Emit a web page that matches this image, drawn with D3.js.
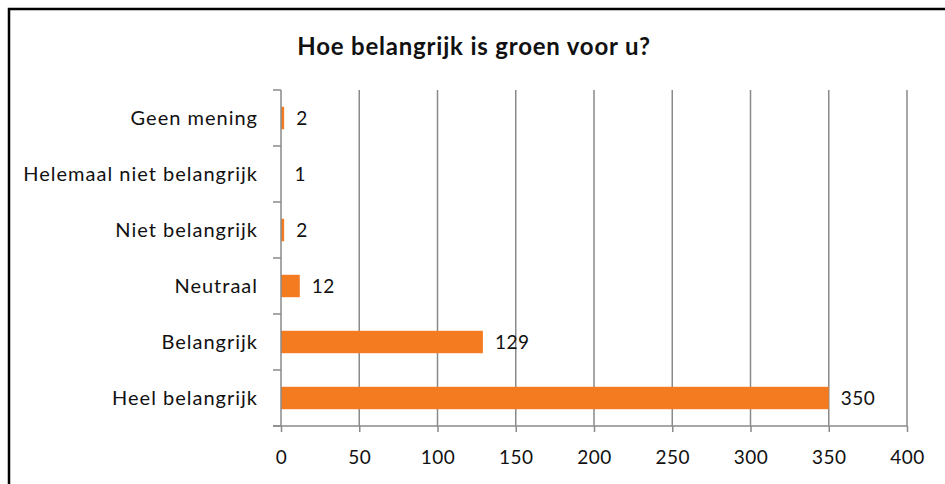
<!DOCTYPE html>
<html>
<head>
<meta charset="utf-8">
<script src="https://cdn.jsdelivr.net/npm/d3@7"></script>
<style>
  body { margin: 0; background: #fff; }
  svg { display: block; font-family: Lato, "Open Sans", sans-serif; }
</style>
</head>
<body>
<script>
// data
var categories = ["Geen mening", "Helemaal niet belangrijk", "Niet belangrijk", "Neutraal", "Belangrijk", "Heel belangrijk"];
var counts = [2, 1, 2, 12, 129, 350];
var xTicks = [0, 50, 100, 150, 200, 250, 300, 350, 400];
var title = "Hoe belangrijk is groen voor u?";

var W = 945, H = 484;
var plotLeft = 281, plotRight = 907, plotTop = 90, plotBottom = 426;

var svg = d3.select("body").append("svg")
	.attr("width", W)
	.attr("height", H);

svg.append("rect")
	.attr("width", W).attr("height", H)
	.attr("fill", "#fff");

// frame (right and bottom edges run off the picture)
svg.append("rect")
	.attr("x", 9).attr("y", 9)
	.attr("width", W + 20).attr("height", H + 20)
	.attr("fill", "none")
	.attr("stroke", "#000")
	.attr("stroke-width", 2.5);

svg.append("text")
	.attr("x", 474).attr("y", 55)
	.attr("text-anchor", "middle")
	.style("font-size", "24px")
	.style("font-weight", "bold")
	.style("letter-spacing", "0.8px")
	.attr("fill", "#111")
	.text(title);

var x = d3.scaleLinear().domain([0, 400]).range([plotLeft, plotRight]);
var y = d3.scaleBand().domain(categories).range([plotTop, plotBottom]).paddingInner(0.6).paddingOuter(0.3);

// gridlines
svg.append("g").selectAll("line")
	.data(xTicks.filter(function(d){ return d > 0; }))
	.enter().append("line")
	.attr("x1", function(d){ return x(d); })
	.attr("x2", function(d){ return x(d); })
	.attr("y1", plotTop).attr("y2", plotBottom)
	.attr("stroke", "#8a8a8a")
	.attr("stroke-width", 1.5);

// bars
svg.append("g").selectAll("rect")
	.data(counts)
	.enter().append("rect")
	.attr("x", x(0))
	.attr("y", function(d, i){ return y(categories[i]); })
	.attr("width", function(d){ return d <= 1 ? 0 : x(d) - x(0); })
	.attr("height", y.bandwidth())
	.attr("fill", "#f47b20");

// value labels
svg.append("g").selectAll("text")
	.data(counts)
	.enter().append("text")
	.attr("x", function(d){ return x(d) + 12; })
	.attr("y", function(d, i){ return y(categories[i]) + y.bandwidth() / 2; })
	.attr("dy", "0.35em")
	.style("font-size", "19px")
	.style("letter-spacing", "0.5px")
	.attr("fill", "#111")
	.text(function(d){ return d; });

// x axis
var xAxis = svg.append("g")
	.attr("transform", "translate(0," + plotBottom + ")")
	.call(d3.axisBottom(x).tickValues(xTicks).tickSize(6).tickPadding(19));
xAxis.select(".domain").remove();
xAxis.append("line")
	.attr("x1", plotLeft - 8).attr("x2", plotRight)
	.attr("stroke", "#8a8a8a").attr("stroke-width", 1.5);
xAxis.selectAll(".tick line").attr("stroke", "#8a8a8a").attr("stroke-width", 1.5);
xAxis.selectAll(".tick text")
	.style("font-size", "19px")
	.style("letter-spacing", "0.5px")
	.style("font-family", "Lato, 'Open Sans', sans-serif")
	.attr("fill", "#111");

// y axis with ticks on band boundaries
var yAxis = svg.append("g");
yAxis.append("line")
	.attr("x1", plotLeft).attr("x2", plotLeft)
	.attr("y1", plotTop).attr("y2", plotBottom)
	.attr("stroke", "#8a8a8a").attr("stroke-width", 1.5);
var step = (plotBottom - plotTop) / categories.length;
yAxis.selectAll("line.tk")
	.data(d3.range(categories.length + 1))
	.enter().append("line")
	.attr("class", "tk")
	.attr("x1", plotLeft - 8).attr("x2", plotLeft)
	.attr("y1", function(d){ return plotTop + d * step; })
	.attr("y2", function(d){ return plotTop + d * step; })
	.attr("stroke", "#8a8a8a").attr("stroke-width", 1.5);
yAxis.selectAll("text")
	.data(categories)
	.enter().append("text")
	.attr("x", plotLeft - 23)
	.attr("y", function(d){ return y(d) + y.bandwidth() / 2; })
	.attr("dy", "0.35em")
	.attr("text-anchor", "end")
	.style("font-size", "20px")
	.style("letter-spacing", "1px")
	.attr("fill", "#111")
	.text(function(d){ return d; });
</script>
</body>
</html>
